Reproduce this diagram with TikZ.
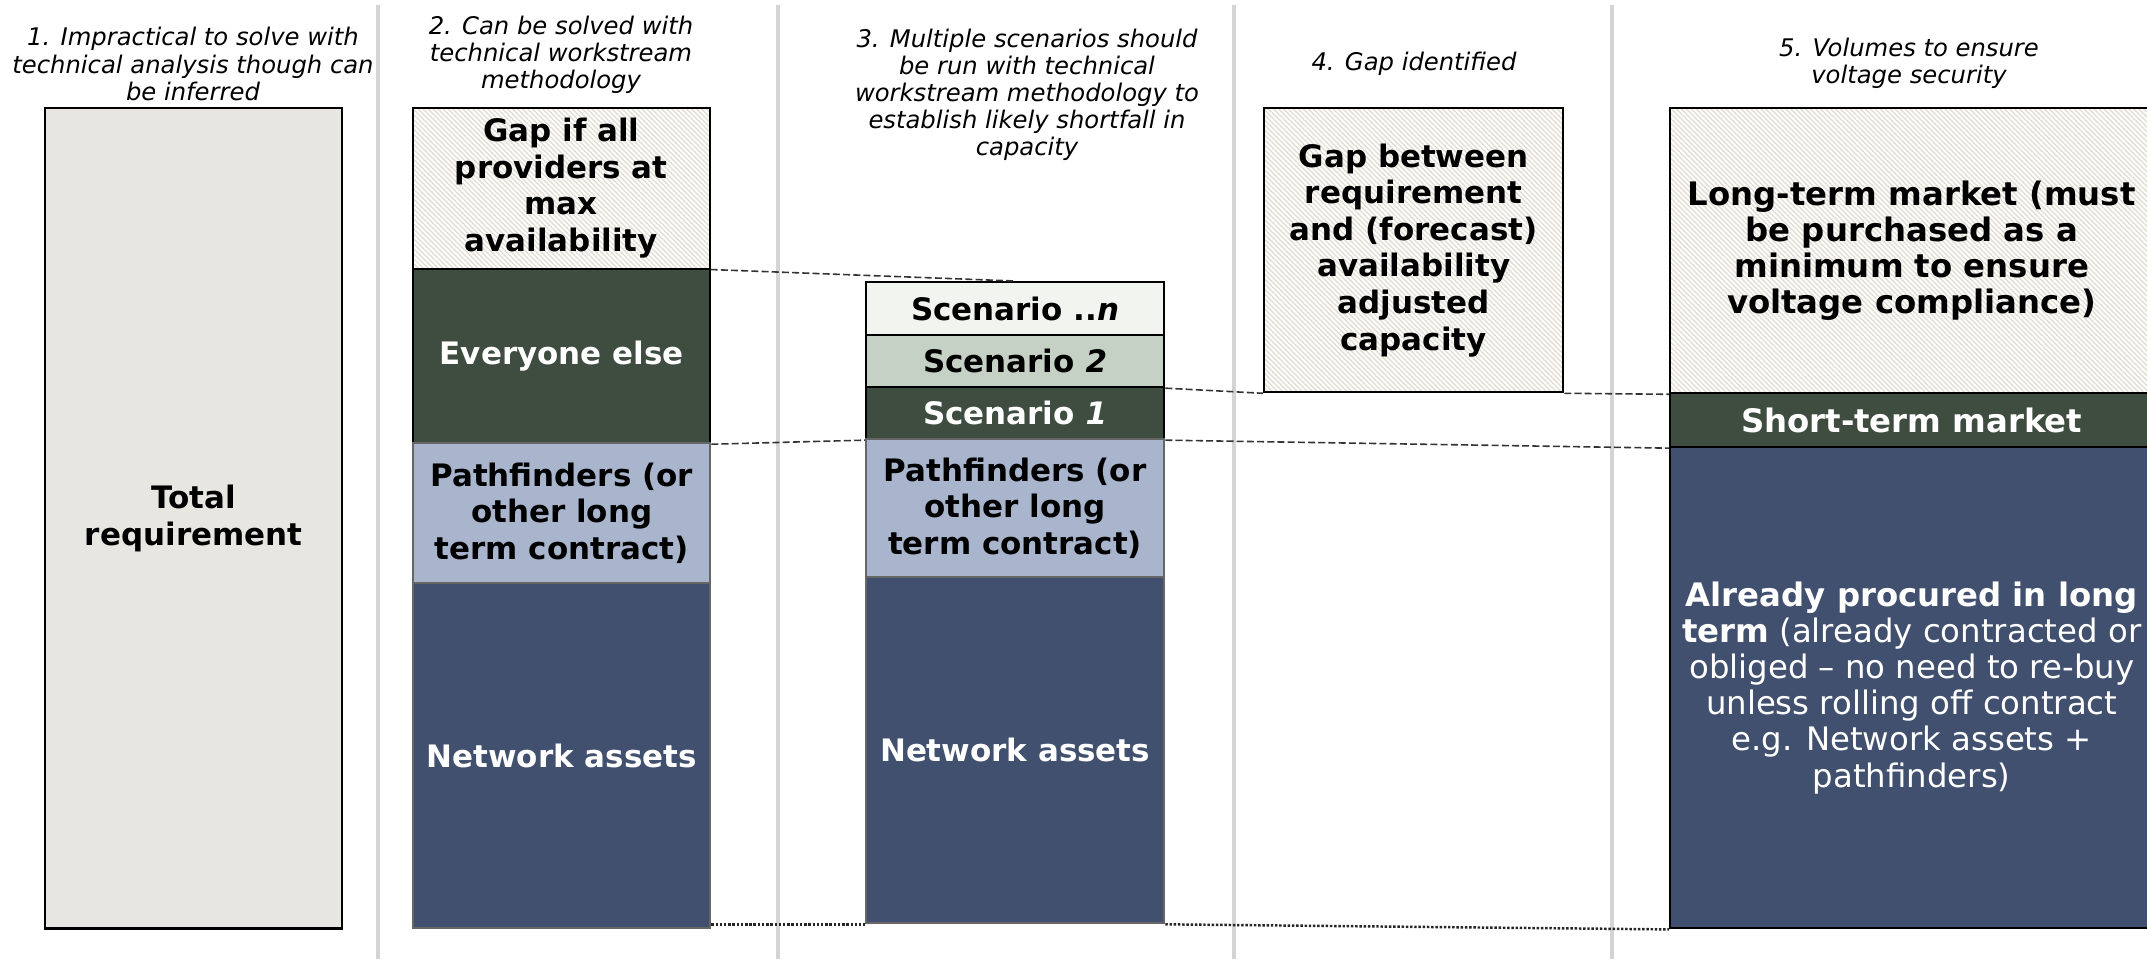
\documentclass[tikz,border=0pt]{standalone}
\usepackage{fontspec}
\setmainfont{DejaVu Sans}
\usetikzlibrary{patterns.meta,calc}
\definecolor{beige}{HTML}{E8E6E0}
\definecolor{dgreen}{HTML}{3E4D3F}
\definecolor{lblue}{HTML}{A9B4CD}
\definecolor{navy}{HTML}{41506E}
\definecolor{scn}{HTML}{F2F4F0}
\definecolor{sctwo}{HTML}{C6D1C6}
\definecolor{hatchc}{HTML}{E2DED3}
\definecolor{sepc}{HTML}{D4D4D4}
\definecolor{edgegray}{HTML}{666666}
\begin{document}
\begin{tikzpicture}[x=0.01cm,y=-0.01cm,
  box/.style={draw=black, line width=0.6pt, inner sep=0pt, anchor=north west, align=center,
    font=\bfseries\fontsize{8.8}{10.4}\selectfont},
  bigbox/.style={box, font=\bfseries\fontsize{9.2}{10.3}\selectfont},
  soft/.style={draw=edgegray},
  hatch/.style={pattern={Lines[angle=-45,distance=1.0pt,line width=0.4pt]}, pattern color=hatchc},
  header/.style={align=center, inner sep=0pt, font=\itshape\fontsize{6.9}{7.7}\selectfont},
  sep/.style={draw=sepc, line width=1.4pt},
  link/.style={draw=black!80, line width=0.45pt, dash pattern=on 2pt off 0.9pt},
  dots/.style={draw=black!85, line width=0.7pt, dash pattern=on 0.7pt off 0.5pt}]
\fill[white] (0,0) rectangle (2147,959);
\useasboundingbox (0,0) rectangle (2147,959);
% separators
\draw[sep] (378,5) -- (378,959);
\draw[sep] (778,5) -- (778,959);
\draw[sep] (1234,5) -- (1234,959);
\draw[sep] (1612,5) -- (1612,959);
% headers
\node[header] (h1) at (193,64) {1. Impractical to solve with\\technical analysis though can\\be inferred};
\node[header] (h2) at (561,55) {2. Can be solved with\\technical workstream\\methodology};
\node[header] (h3) at (1027,95) {3. Multiple scenarios should\\be run with technical\\workstream methodology to\\establish likely shortfall in\\capacity};
\node[header] (h4) at (1414,64) {4. Gap identified};
\node[header] (h5) at (1909,63) {5. Volumes to ensure\\voltage security};
% column 1
\node[box, fill=beige, minimum width=2.97cm, minimum height=8.20cm] (tot) at (44,107) {Total\\requirement};
% column 2
\node[box, hatch, minimum width=2.97cm, minimum height=1.61cm] (gap2) at (412,107) {Gap if all\\providers at\\max\\availability};
\node[box, fill=dgreen, text=white, minimum width=2.97cm, minimum height=1.74cm] (else2) at (412,268) {Everyone else};
\node[box, soft, fill=lblue, minimum width=2.97cm, minimum height=1.40cm] (path2) at (412,442) {Pathfinders (or\\other long\\term contract)};
\node[box, soft, fill=navy, text=white, minimum width=2.97cm, minimum height=3.45cm] (net2) at (412,582) {Network assets};
% column 3
\node[box, fill=scn, minimum width=2.98cm, minimum height=0.53cm] (scnn) at (865,281) {Scenario ..\textit{n}};
\node[box, fill=sctwo, minimum width=2.98cm, minimum height=0.52cm] (sc2) at (865,334) {Scenario \textit{2}};
\node[box, fill=dgreen, text=white, minimum width=2.98cm, minimum height=0.52cm] (sc1) at (865,386) {Scenario \textit{1}};
\node[box, soft, fill=lblue, minimum width=2.98cm, minimum height=1.38cm] (path3) at (865,438) {Pathfinders (or\\other long\\term contract)};
\node[box, soft, fill=navy, text=white, minimum width=2.98cm, minimum height=3.46cm] (net3) at (865,576) {Network assets};
% column 4
\node[box, hatch, minimum width=2.99cm, minimum height=2.84cm] (gap4) at (1263,107) {Gap between\\requirement\\and (forecast)\\availability\\adjusted\\capacity};
% column 5
\node[bigbox, hatch, minimum width=4.83cm, minimum height=2.85cm] (long5) at (1669,107) {Long-term market (must\\be purchased as a\\minimum to ensure\\voltage compliance)};
\node[bigbox, fill=dgreen, text=white, minimum width=4.83cm, minimum height=0.54cm] (short5) at (1669,392) {Short-term market};
\node[bigbox, fill=navy, text=white, minimum width=4.83cm, minimum height=4.81cm,
  font=\mdseries\fontsize{9.2}{10.3}\selectfont] (proc5) at (1669,446)
  {\textbf{Already procured in long}\\\textbf{term} (already contracted or\\obliged – no need to re-buy\\unless rolling off contract\\e.g. Network assets +\\pathfinders)};
% connectors
\draw[link] (gap2.south east) -- (scnn.north);
\draw[link] (else2.south east) -- (sc1.south west);
\draw[link] (sc1.south east) -- (short5.south west);
\draw[link] (sc2.south east) -- (gap4.south west);
\draw[link] (gap4.south east) -- (long5.south west);
\draw[dots] (net3.south west -| net2.east) -- (net3.south west);
\draw[dots] (net3.south east) -- (proc5.south west);
\end{tikzpicture}
\end{document}
